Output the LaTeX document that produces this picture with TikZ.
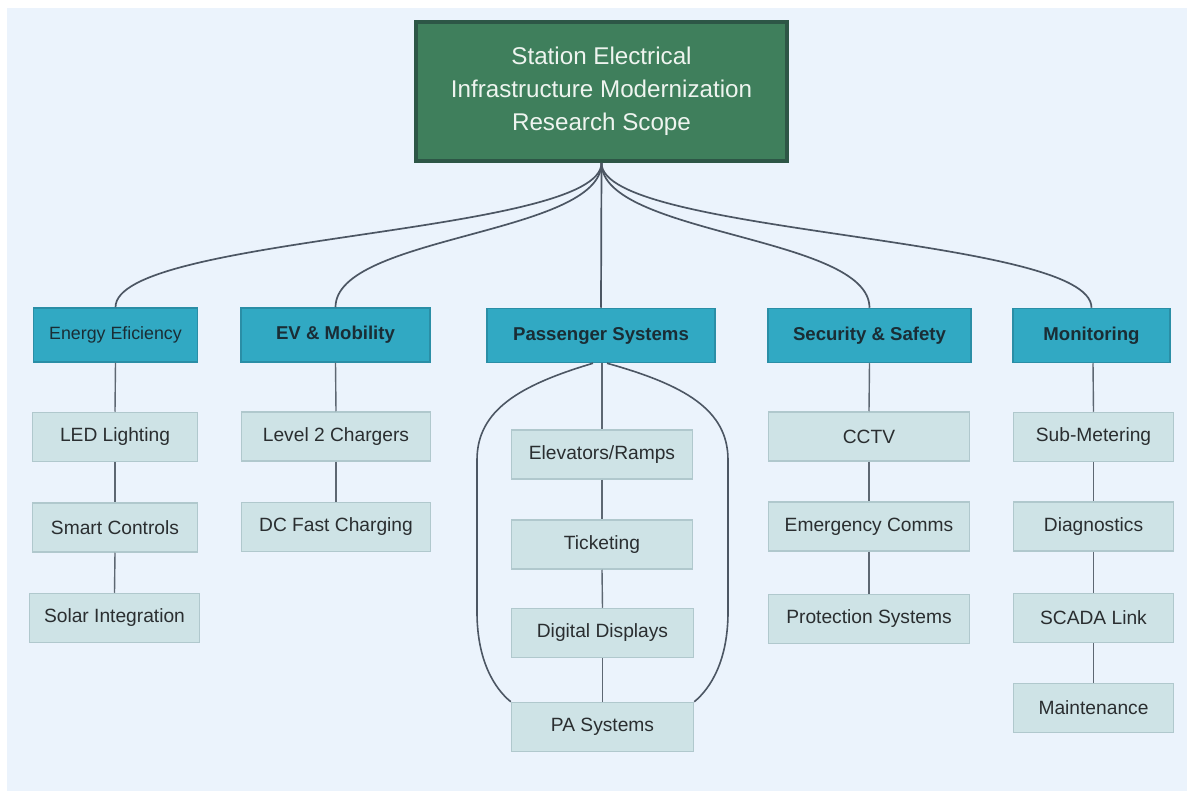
\documentclass[tikz,border=0pt]{standalone}
\usepackage{fontspec}
\setmainfont{Liberation Sans}
\usetikzlibrary{calc}

\definecolor{pagebg}{HTML}{EBF3FC}
\definecolor{rootfill}{HTML}{3F7F5C}
\definecolor{rootline}{HTML}{2D5646}
\definecolor{rootText}{HTML}{EEF4EF}
\definecolor{catfill}{HTML}{31A9C3}
\definecolor{catline}{HTML}{2A8EA6}
\definecolor{catText}{HTML}{1A2D35}
\definecolor{itemfill}{HTML}{CEE3E6}
\definecolor{itemline}{HTML}{B0C8CD}
\definecolor{itemText}{HTML}{2A2E30}
\definecolor{wire}{HTML}{5D6772}
\definecolor{trunk}{HTML}{4C5663}

\tikzset{
  rootbox/.style={draw=rootline, line width=4pt, fill=rootfill,
    minimum width=371pt, minimum height=139pt, inner sep=0pt,
    text=rootText, align=center, font=\fontsize{24.2}{33}\selectfont},
  catbox/.style={draw=catline, line width=1.5pt, fill=catfill,
    minimum height=54pt, inner sep=0pt, text=catText,
    font=\fontsize{18.6}{22}\selectfont\bfseries},
  catlight/.style={catbox, font=\fontsize{17.8}{22}\selectfont},
  itembox/.style={draw=itemline, line width=1.5pt, fill=itemfill,
    minimum height=49pt, inner sep=0pt, text=itemText,
    font=\fontsize{19.2}{22}\selectfont},
  branch/.style={draw=trunk, line width=1.7pt},
  link/.style={draw=wire, line width=1.4pt},
}

\begin{document}
\begin{tikzpicture}[x=1pt,y=-1pt]
  % page and panel
  \fill[white] (0,0) rectangle (1187,791);
  \fill[pagebg] (7,8) rectangle (1187,791);
  \useasboundingbox (0,0) rectangle (1187,791);

  % root
  \node[rootbox] (root) at (601.5,91.5)
    {Station Electrical\\Infrastructure Modernization\\Research Scope};

  % categories
  \node[catlight, minimum width=164pt] (ee)  at (115.5,335) {Energy Eficiency};
  \node[catbox, minimum width=189pt]   (ev)  at (335.5,335) {EV \& Mobility};
  \node[catbox, minimum width=228pt]   (ps)  at (601,335.5) {Passenger Systems};
  \node[catbox, minimum width=203pt]   (ss)  at (869.5,335.5) {Security \& Safety};
  \node[catbox, minimum width=157pt]   (mon) at (1091.5,335.5) {Monitoring};

  % energy efficiency items
  \node[itembox, minimum width=165pt] (led)   at (115,437) {LED Lighting};
  \node[itembox, minimum width=165pt] (smart) at (115,527.5) {Smart Controls};
  \node[itembox, minimum width=170pt] (solar) at (114.5,618) {Solar Integration};

  % EV items
  \node[itembox, minimum width=189pt] (lvl2) at (336,436.5) {Level 2 Chargers};
  \node[itembox, minimum width=189pt] (dcfc) at (336,527) {DC Fast Charging};

  % passenger items
  \node[itembox, minimum width=181pt] (elev)  at (602,454.5) {Elevators/Ramps};
  \node[itembox, minimum width=181pt] (tick)  at (602,544.5) {Ticketing};
  \node[itembox, minimum width=182pt] (disp)  at (602.5,633) {Digital Displays};
  \node[itembox, minimum width=182pt] (pa)    at (602.5,727) {PA Systems};

  % security items
  \node[itembox, minimum width=201pt] (cctv) at (869,436.5) {CCTV};
  \node[itembox, minimum width=201pt] (emc)  at (869,526.5) {Emergency Comms};
  \node[itembox, minimum width=201pt] (prot) at (869,619) {Protection Systems};

  % monitoring items
  \node[itembox, minimum width=160pt] (sub)   at (1093.5,437) {Sub-Metering};
  \node[itembox, minimum width=160pt] (diag)  at (1093.5,526.5) {Diagnostics};
  \node[itembox, minimum width=160pt] (scada) at (1093.5,618) {SCADA Link};
  \node[itembox, minimum width=160pt] (maint) at (1093.5,708) {Maintenance};

  % root to categories
  \foreach \c in {ee,ev,ss,mon}
    \draw[branch] (root.south) .. controls +(0,72) and +(0,-72) .. (\c.north);
  \draw[branch] (root.south) -- (ps.north);

  % category chains
  \draw[link] (ee.south) -- (led.north);
  \draw[link] (led.south) -- (smart.north);
  \draw[link] (smart.south) -- (solar.north);

  \draw[link] (ev.south) -- (lvl2.north);
  \draw[link] (lvl2.south) -- (dcfc.north);

  \draw[link] ([xshift=1pt]ps.south) -- (elev.north);
  \draw[link] (elev.south) -- (tick.north);
  \draw[link] (tick.south) -- (disp.north);
  \draw[link] (disp.south) -- (pa.north);

  \draw[link] (ss.south) -- (cctv.north);
  \draw[link] (cctv.south) -- (emc.north);
  \draw[link] (emc.south) -- (prot.north);

  \draw[link] ([xshift=1.5pt]mon.south) -- (sub.north);
  \draw[link] (sub.south) -- (diag.north);
  \draw[link] (diag.south) -- (scada.north);
  \draw[link] (scada.south) -- (maint.north);

  % outer loop around the passenger items
  \draw[branch, line width=1.6pt] ([xshift=-8pt]ps.south)
    .. controls (520,385) and (477,410) .. (477,460)
    -- (477,612)
    .. controls (477,660) and (494,688) .. (pa.north west);
  \draw[branch, line width=1.6pt] ([xshift=6pt]ps.south)
    .. controls (685,385) and (728,410) .. (728,460)
    -- (728,612)
    .. controls (728,660) and (711,688) .. (pa.north east);
\end{tikzpicture}
\end{document}
